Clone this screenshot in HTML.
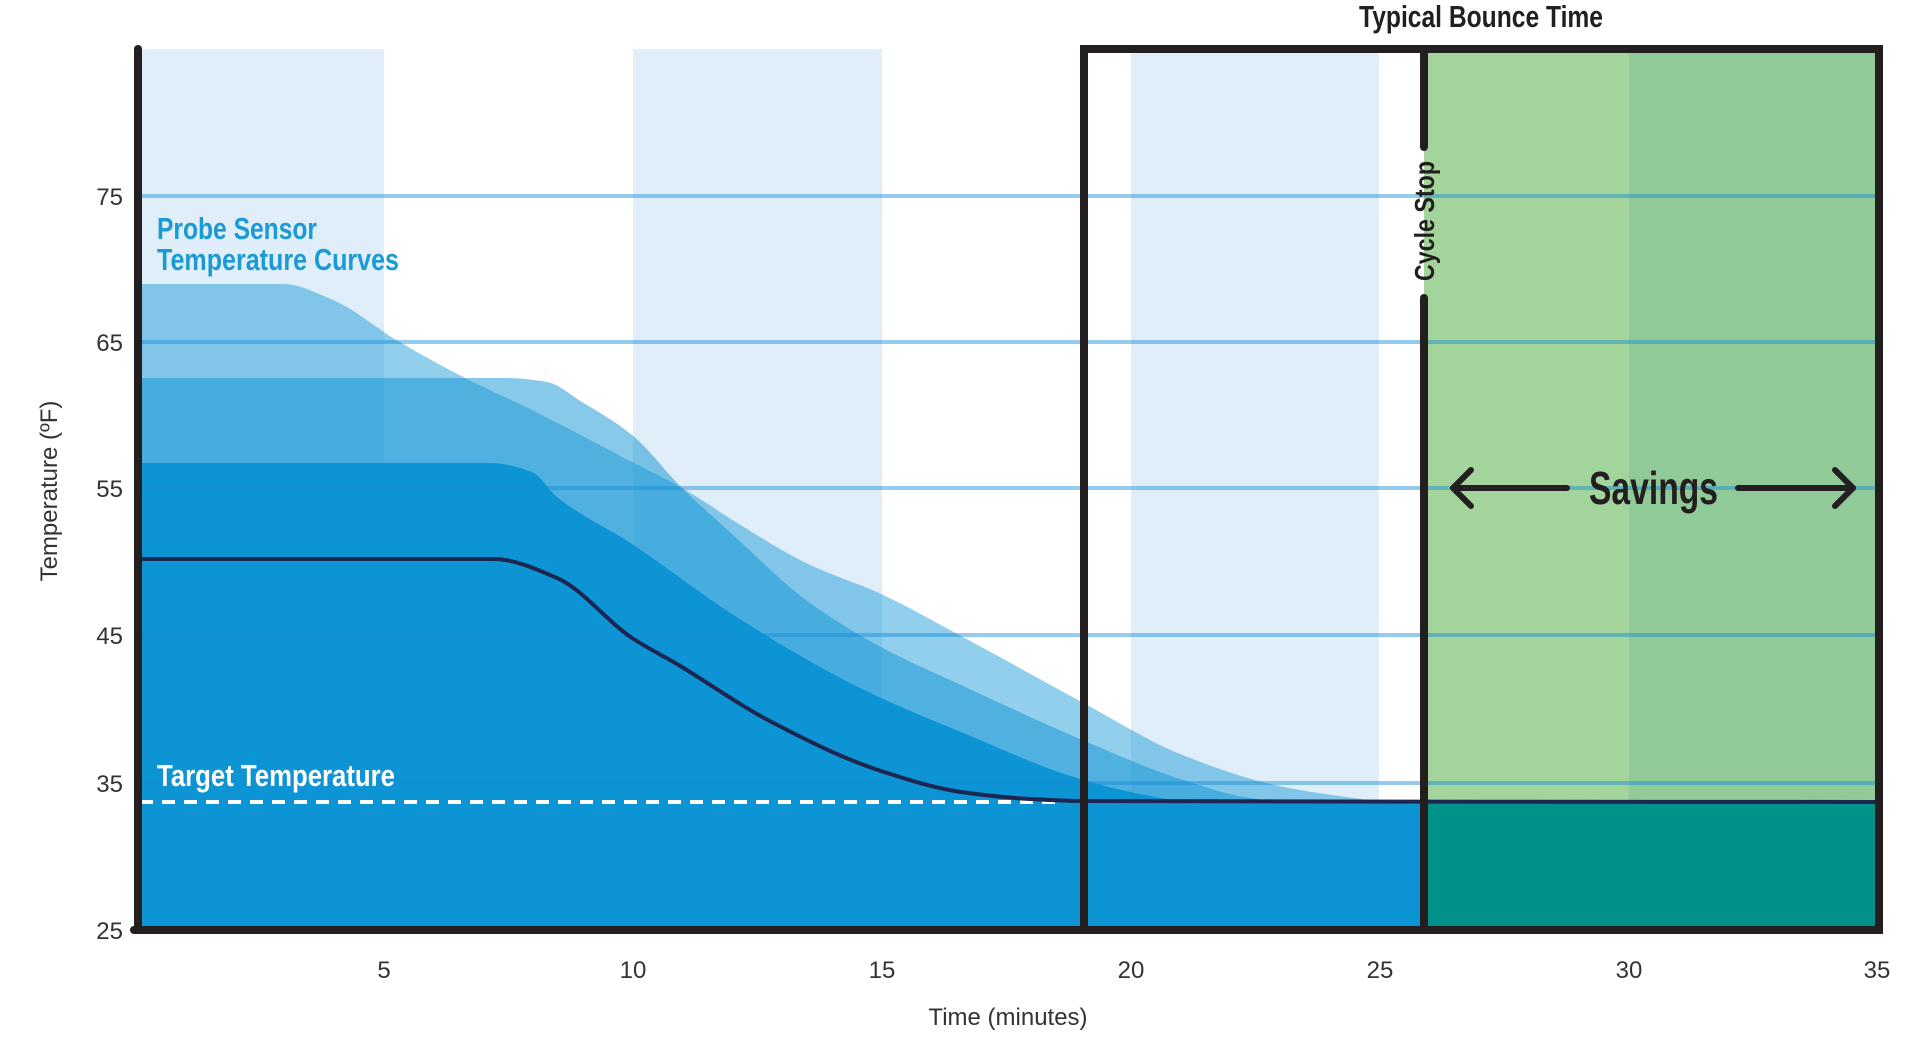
<!DOCTYPE html>
<html><head><meta charset="utf-8"><style>
html,body{margin:0;padding:0;background:#fff;}
svg{display:block;}
.n{font-family:"Liberation Sans Narrow","Liberation Sans",sans-serif;font-weight:bold;}
.l{font-family:"Liberation Sans",sans-serif;fill:#333;font-size:24px;}
</style></head><body>
<svg id="s" width="1920" height="1051" viewBox="0 0 1920 1051" xmlns="http://www.w3.org/2000/svg">
<rect width="1920" height="1051" fill="#fff"/>
<rect x="138" y="49" width="246" height="881" fill="#e0eef9"/>
<rect x="633" y="49" width="249" height="881" fill="#e0eef9"/>
<rect x="1131" y="49" width="248" height="881" fill="#e0eef9"/>
<path id="pA" fill="rgba(14,148,212,0.45)" d=""/>
<path id="pB" fill="rgba(14,148,212,0.5)" d=""/>
<path id="pC" fill="#0d94d4" d=""/>
<rect x="1424" y="49" width="455" height="752" fill="#a3d49b"/>
<rect x="1629" y="49" width="250" height="752" fill="#8fca98"/>
<rect x="1424" y="801" width="455" height="129" fill="#00918a"/>
<g stroke="rgba(20,140,215,0.45)" stroke-width="4">
<line x1="138" y1="196" x2="1879" y2="196"/>
<line x1="138" y1="342" x2="1879" y2="342"/>
<line x1="138" y1="488" x2="1879" y2="488"/>
<line x1="138" y1="635" x2="1879" y2="635"/>
<line x1="138" y1="783" x2="1879" y2="783"/>
</g>
<line x1="140" y1="802" x2="1060" y2="802" stroke="#fff" stroke-width="4" stroke-dasharray="13 9"/>
<path id="pD" fill="none" stroke="#1c2650" stroke-width="4" d=""/>
<g stroke="#231f20" stroke-width="8" fill="none" stroke-linecap="round">
<line x1="138" y1="49" x2="138" y2="930"/>
<line x1="134" y1="930" x2="1879" y2="930"/>
<rect x="1084" y="49" width="795" height="881" stroke-linecap="butt"/>
<line x1="1424" y1="49" x2="1424" y2="147"/>
<line x1="1424" y1="298" x2="1424" y2="930"/>
</g>
<g stroke="#231f20" stroke-width="6" fill="none" stroke-linecap="round" stroke-linejoin="round">
<line x1="1453" y1="488" x2="1567" y2="488"/>
<polyline points="1471,470 1453,488 1471,506"/>
<line x1="1738" y1="488" x2="1853" y2="488"/>
<polyline points="1835,470 1853,488 1835,506"/>
</g>
<text class="n" x="1589" y="504" font-size="46" fill="#231f20" textLength="129" lengthAdjust="spacingAndGlyphs">Savings</text>
<text class="n" x="1359" y="27" font-size="31" fill="#231f20" textLength="244" lengthAdjust="spacingAndGlyphs">Typical Bounce Time</text>
<text class="n" transform="translate(1434,281) rotate(-90)" font-size="28" fill="#231f20" textLength="120" lengthAdjust="spacingAndGlyphs">Cycle Stop</text>
<text class="n" x="157" y="239" font-size="31" fill="#1b9ad6" textLength="160" lengthAdjust="spacingAndGlyphs">Probe Sensor</text>
<text class="n" x="157" y="270" font-size="31" fill="#1b9ad6" textLength="242" lengthAdjust="spacingAndGlyphs">Temperature Curves</text>
<text class="n" x="157" y="786" font-size="31" fill="#fff" textLength="238" lengthAdjust="spacingAndGlyphs">Target Temperature</text>
<g class="l" text-anchor="end">
<text x="123" y="205">75</text><text x="123" y="351">65</text><text x="123" y="497">55</text>
<text x="123" y="644">45</text><text x="123" y="792">35</text><text x="123" y="939">25</text>
</g>
<g class="l" text-anchor="middle">
<text x="384" y="978">5</text><text x="633" y="978">10</text><text x="882" y="978">15</text>
<text x="1131" y="978">20</text><text x="1380" y="978">25</text><text x="1629" y="978">30</text><text x="1877" y="978">35</text>
<text x="1008" y="1025">Time (minutes)</text>
<text transform="translate(57,491) rotate(-90)">Temperature (ºF)</text>
</g>
</svg>
<script>
function mono(p){var n=p.length,d=[],m=[],i;
for(i=0;i<n-1;i++)d[i]=(p[i+1][1]-p[i][1])/(p[i+1][0]-p[i][0]);
m[0]=d[0];m[n-1]=d[n-2];
for(i=1;i<n-1;i++){if(d[i-1]*d[i]<=0)m[i]=0;else{var h0=p[i][0]-p[i-1][0],h1=p[i+1][0]-p[i][0];var w1=2*h1+h0,w2=h1+2*h0;m[i]=(w1+w2)/(w1/d[i-1]+w2/d[i]);}}
var s="M"+p[0][0]+","+p[0][1];
for(i=0;i<n-1;i++){var h=(p[i+1][0]-p[i][0])/3;
s+=" C"+(p[i][0]+h).toFixed(1)+","+(p[i][1]+m[i]*h).toFixed(1)+" "+(p[i+1][0]-h).toFixed(1)+","+(p[i+1][1]-m[i+1]*h).toFixed(1)+" "+p[i+1][0]+","+p[i+1][1];}
return s;}
var A=[[138,284],[283,284],[333,300],[398,341],[465,378],[532,410],[632,462],[682,488],[742,526],[806,563],[881,594],[961,636],[1080,701],[1180,754],[1279,786],[1354,798],[1379,801],[1424,801]];
var B=[[138,378],[507,378],[547,382],[582,402],[632,435],[682,488],[732,534],[806,600],[881,647],[961,685],[1080,739],[1180,779],[1250,798],[1279,801],[1424,801]];
var C=[[138,463],[490,463],[532,472],[557,497],[632,544],[732,614],[831,673],[881,698],[961,732],[1080,779],[1160,798],[1180,801],[1424,801]];
var D=[[138,559],[493,559],[557,578],[632,638],[677,664],[766,719],[881,771],[961,792],[1030,799],[1080,801],[1879,802]];
var cl=" L1424,930 L138,930 Z";
document.getElementById("pA").setAttribute("d",mono(A)+cl);
document.getElementById("pB").setAttribute("d",mono(B)+cl);
document.getElementById("pC").setAttribute("d",mono(C)+cl);
document.getElementById("pD").setAttribute("d",mono(D));
</script>
</body></html>
